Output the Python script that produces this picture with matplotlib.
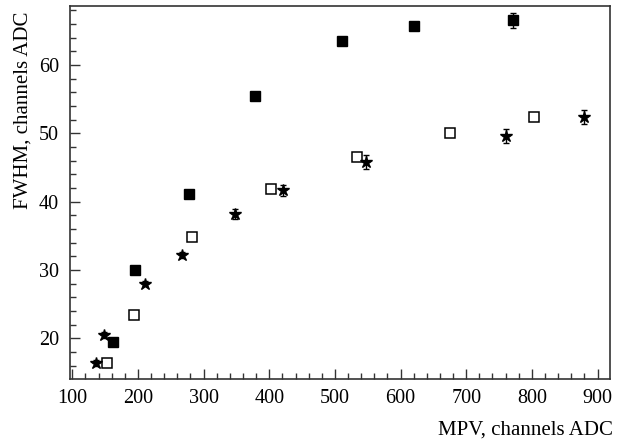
import numpy as np
import matplotlib
matplotlib.use("Agg")
import matplotlib.pyplot as plt
from matplotlib.ticker import MultipleLocator

# filled squares
mpv_filled = [162, 195, 277, 378, 511, 621, 772]
fwhm_filled = [19.4, 30.0, 41.1, 55.5, 63.6, 65.8, 66.6]
err_filled = [0.3, 0.3, 0.3, 0.3, 0.3, 0.3, 1.1]

# open squares
mpv_open = [153, 194, 283, 403, 534, 675, 804]
fwhm_open = [16.4, 23.4, 34.8, 41.8, 46.6, 50.0, 52.4]
err_open = [0.3, 0.3, 0.3, 0.3, 0.3, 0.3, 0.3]

# stars
mpv_star = [136, 148, 211, 267, 348, 421, 548, 761, 880]
fwhm_star = [16.4, 20.5, 28.0, 32.2, 38.2, 41.7, 45.8, 49.6, 52.4]
err_star = [0.4, 0.4, 0.4, 0.4, 0.7, 0.8, 1.0, 1.0, 1.0]

plt.rcParams['font.family'] = ['Liberation Serif', 'DejaVu Serif']

fig = plt.figure(figsize=(6.19, 4.41), dpi=100)
ax = fig.add_axes([70/619, 1-379/441, 540/619, (379-5.7)/441])

ax.errorbar(mpv_filled, fwhm_filled, yerr=err_filled, fmt='s', ms=7.5,
            mfc='black', mec='black', ecolor='black', elinewidth=1, capsize=2.5)
ax.errorbar(mpv_open, fwhm_open, yerr=err_open, fmt='s', ms=7,
            mfc='white', mec='black', mew=1.1, ecolor='black', elinewidth=1, capsize=2.5)
ax.errorbar(mpv_star, fwhm_star, yerr=err_star, fmt='*', ms=9,
            mfc='black', mec='black', ecolor='black', elinewidth=1, capsize=2.5)

ax.set_xlim(96.5, 919)
ax.set_ylim(14.04, 68.7)
ax.xaxis.set_major_locator(MultipleLocator(100))
ax.xaxis.set_minor_locator(MultipleLocator(20))
ax.yaxis.set_major_locator(MultipleLocator(10))
ax.yaxis.set_minor_locator(MultipleLocator(2))
ax.tick_params(which='both', direction='in', top=False, right=False,
               labelsize=14.5, width=1, color='#333333')
ax.tick_params(which='major', length=7.5)
ax.tick_params(which='minor', length=4)
ax.tick_params(axis='x', pad=7)
ax.tick_params(axis='y', pad=8)
for s in ax.spines.values():
    s.set_linewidth(1.2)
    s.set_color('#333333')

ax.set_xlabel('MPV, channels ADC', loc='right', fontsize=15)
ax.set_ylabel('FWHM, channels ADC', loc='top', fontsize=15)
ax.xaxis.set_label_coords(1.006, -0.11)
ax.yaxis.set_label_coords(-0.07, 0.983)

fig.savefig('out.png', dpi=100)
